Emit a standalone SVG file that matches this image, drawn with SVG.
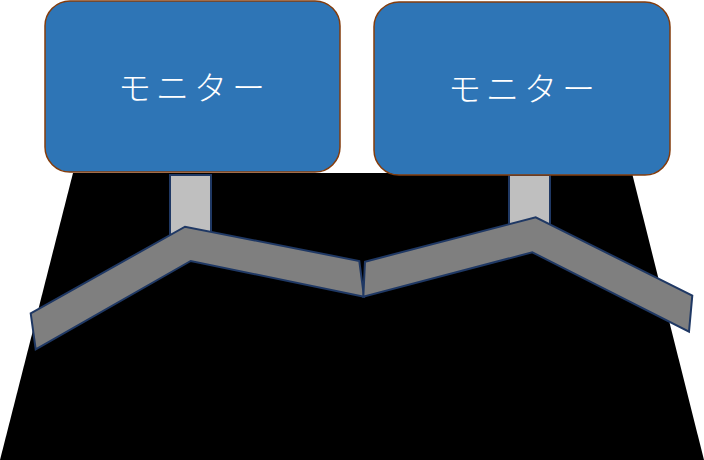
<svg xmlns="http://www.w3.org/2000/svg" width="704" height="460" viewBox="0 0 704 460">
<style>
.mon{fill:#2E75B6;stroke:#843C0C;stroke-width:1.5}
.lbl{fill:#FFFFFF;font-family:"Noto Sans CJK JP","Noto Sans",sans-serif;font-size:33px;font-weight:300;letter-spacing:5px;text-anchor:middle;dominant-baseline:central}
.neck{fill:#BFBFBF;stroke:#1F3864;stroke-width:2}
.arm{fill:#7F7F7F;stroke:#1F3864;stroke-width:2;stroke-linejoin:miter}
</style>
<g id="desk"><polygon points="73,173 632,173 704,460 0,460" fill="#000000"/></g>
<g id="neck1"><rect class="neck" x="170" y="175" width="41" height="60"/></g>
<g id="neck2"><rect class="neck" x="509" y="175" width="41" height="55"/></g>
<g id="arm-left"><polygon class="arm" points="30.7,313.3 185,226.7 359.3,261 364,296.7 190.7,261 35.7,349.3"/></g>
<g id="arm-right"><polygon class="arm" points="365,261.7 535.7,217.3 692.3,295.7 689,331.7 532.3,252.3 363.3,296.7"/></g>
<g id="monitor1"><rect class="mon" x="45" y="1" width="295" height="171" rx="25" ry="25"/><text class="lbl" x="194" y="86">モニター</text></g>
<g id="monitor2"><rect class="mon" x="374" y="2" width="296" height="173" rx="25" ry="25"/><text class="lbl" x="524" y="87">モニター</text></g>
</svg>
